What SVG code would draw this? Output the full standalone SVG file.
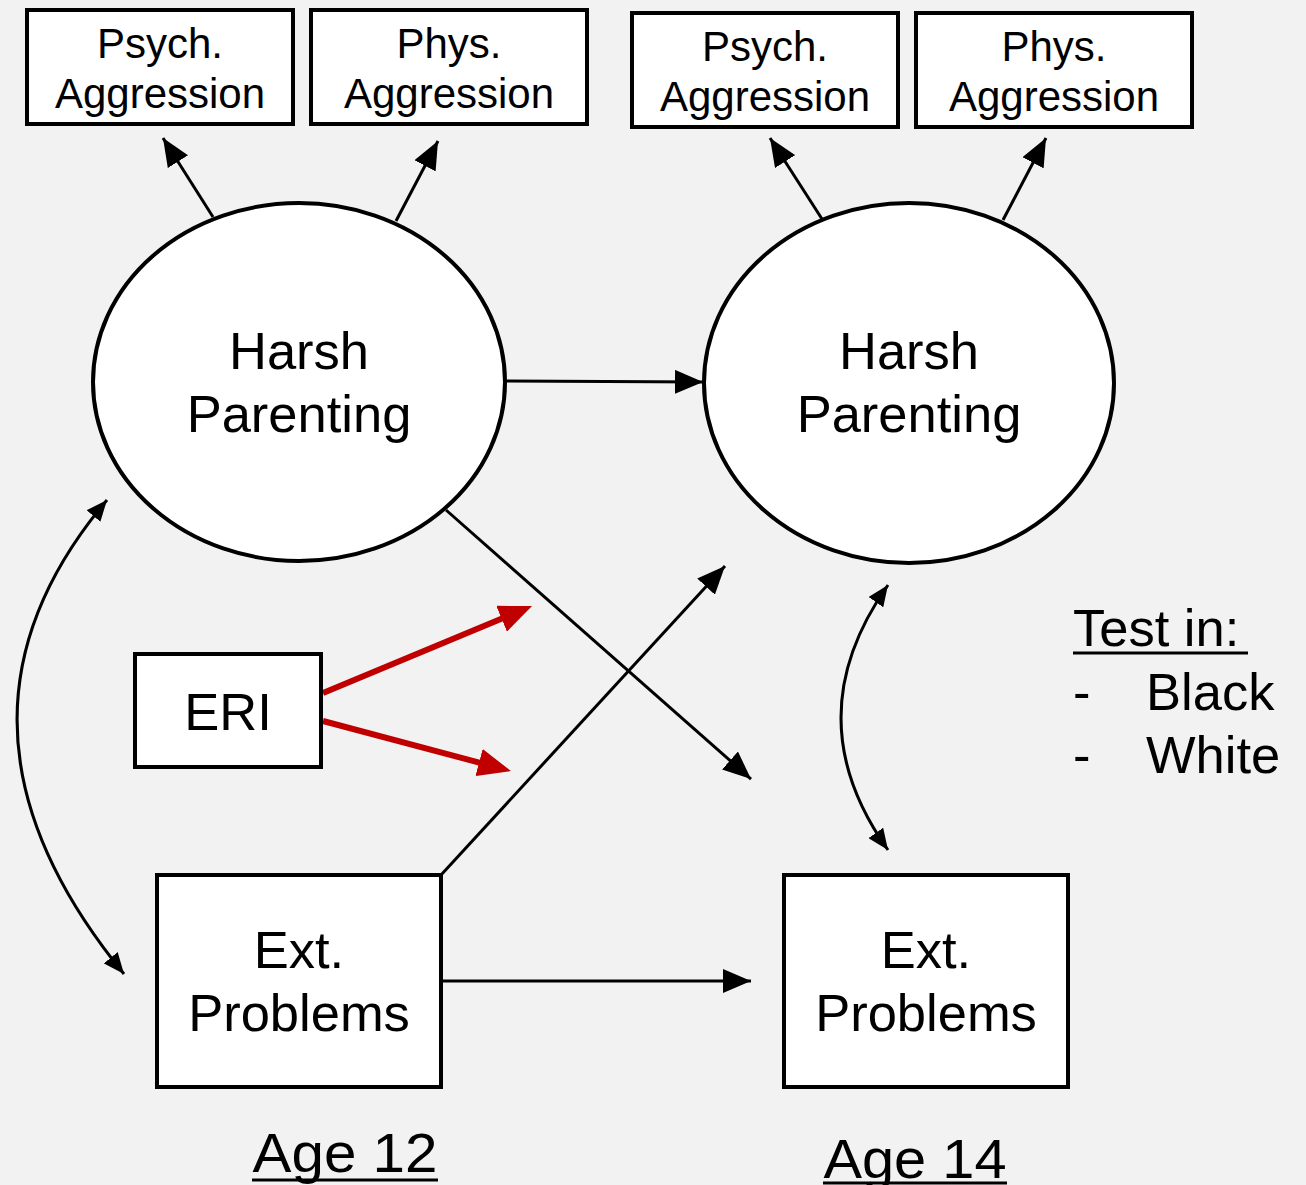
<svg xmlns="http://www.w3.org/2000/svg" width="1306" height="1185" viewBox="0 0 1306 1185">
<style>
.box{fill:#fff;stroke:#000;stroke-width:4}
.ell{fill:#fff;stroke:#000;stroke-width:4}
text{font-family:"Liberation Sans",Arial,sans-serif;fill:#000;text-anchor:middle}
.sm{font-size:42px}
.lg{font-size:52.5px}
.c{fill:none;stroke:#000;stroke-width:3}
.r{fill:none;stroke:#c00000;stroke-width:6}
.u{stroke:#000;stroke-width:3}
</style>
<defs>
<marker id="ah" markerUnits="userSpaceOnUse" markerWidth="30" markerHeight="24" viewBox="0 0 30 24" refX="28" refY="12" orient="auto-start-reverse">
<path d="M0,0 L28,12 L0,24 Z" fill="#000"/>
</marker>
<marker id="ahs" markerUnits="userSpaceOnUse" markerWidth="22" markerHeight="18" viewBox="0 0 22 18" refX="21" refY="9" orient="auto-start-reverse">
<path d="M0,0 L21,9 L0,18 Z" fill="#000"/>
</marker>
<marker id="ahr" markerUnits="userSpaceOnUse" markerWidth="34" markerHeight="28" viewBox="0 0 34 28" refX="5" refY="14" orient="auto">
<path d="M0,0 L33,14 L0,28 Z" fill="#c00000"/>
</marker>
</defs>
<rect width="1306" height="1185" fill="#f2f2f2"/>
<g id="connectors">
<line class="c" x1="213" y1="217" x2="163" y2="138" marker-end="url(#ah)"/>
<line class="c" x1="396" y1="221" x2="438" y2="141" marker-end="url(#ah)"/>
<line class="c" x1="822" y1="219" x2="770" y2="138" marker-end="url(#ah)"/>
<line class="c" x1="1003" y1="220" x2="1046" y2="138" marker-end="url(#ah)"/>
<line class="c" x1="506" y1="381" x2="703" y2="382" marker-end="url(#ah)"/>
<line class="c" x1="446" y1="510" x2="751" y2="779" marker-end="url(#ah)"/>
<line class="c" x1="441" y1="875" x2="725" y2="566" marker-end="url(#ah)"/>
<line class="c" x1="441" y1="981" x2="751" y2="981" marker-end="url(#ah)"/>
<line class="r" x1="323" y1="693" x2="506.2" y2="616.8" marker-end="url(#ahr)"/>
<line class="r" x1="323" y1="721" x2="483.9" y2="763.8" marker-end="url(#ahr)"/>
<path class="c" d="M107,500 Q-81,723 124,974" marker-start="url(#ahs)" marker-end="url(#ahs)"/>
<path class="c" d="M888,585 Q794,718 888,850" marker-start="url(#ahs)" marker-end="url(#ahs)"/>
</g>
<g id="psych12"><rect class="box" x="27" y="10" width="266" height="114"/><text class="sm" x="160" y="58">Psych.</text><text class="sm" x="160" y="108">Aggression</text></g>
<g id="phys12"><rect class="box" x="311" y="10" width="276" height="114"/><text class="sm" x="449" y="58">Phys.</text><text class="sm" x="449" y="108">Aggression</text></g>
<g id="psych14"><rect class="box" x="632" y="13" width="266" height="114"/><text class="sm" x="765" y="61">Psych.</text><text class="sm" x="765" y="111">Aggression</text></g>
<g id="phys14"><rect class="box" x="916" y="13" width="276" height="114"/><text class="sm" x="1054" y="61">Phys.</text><text class="sm" x="1054" y="111">Aggression</text></g>
<g id="harsh12"><ellipse class="ell" cx="299" cy="382" rx="206" ry="179"/><text class="lg" x="299" y="369">Harsh</text><text class="lg" x="299" y="432">Parenting</text></g>
<g id="harsh14"><ellipse class="ell" cx="909" cy="383" rx="205" ry="180"/><text class="lg" x="909" y="369">Harsh</text><text class="lg" x="909" y="432">Parenting</text></g>
<g id="eri"><rect class="box" x="135" y="654" width="186" height="113"/><text class="lg" x="228" y="730">ERI</text></g>
<g id="ext12"><rect class="box" x="157" y="875" width="284" height="212"/><text class="lg" x="299" y="968">Ext.</text><text class="lg" x="299" y="1031">Problems</text></g>
<g id="ext14"><rect class="box" x="784" y="875" width="284" height="212"/><text class="lg" x="926" y="968">Ext.</text><text class="lg" x="926" y="1031">Problems</text></g>
<g id="legend">
<text class="lg" x="1073" y="646" style="text-anchor:start">Test in:</text>
<line class="u" x1="1073" y1="653" x2="1248" y2="653"/>
<text class="lg" x="1073" y="710" style="text-anchor:start">-</text>
<text class="lg" x="1146" y="710" style="text-anchor:start">Black</text>
<text class="lg" x="1073" y="773" style="text-anchor:start">-</text>
<text class="lg" x="1146" y="773" style="text-anchor:start">White</text>
</g>
<g id="age12"><text x="345" y="1172" style="font-size:56px" textLength="185" lengthAdjust="spacingAndGlyphs">Age 12</text><line class="u" x1="252" y1="1180" x2="438" y2="1180"/></g>
<g id="age14"><text x="915" y="1178" style="font-size:56px" textLength="183" lengthAdjust="spacingAndGlyphs">Age 14</text><line class="u" x1="823" y1="1183" x2="1007" y2="1183"/></g>
</svg>
